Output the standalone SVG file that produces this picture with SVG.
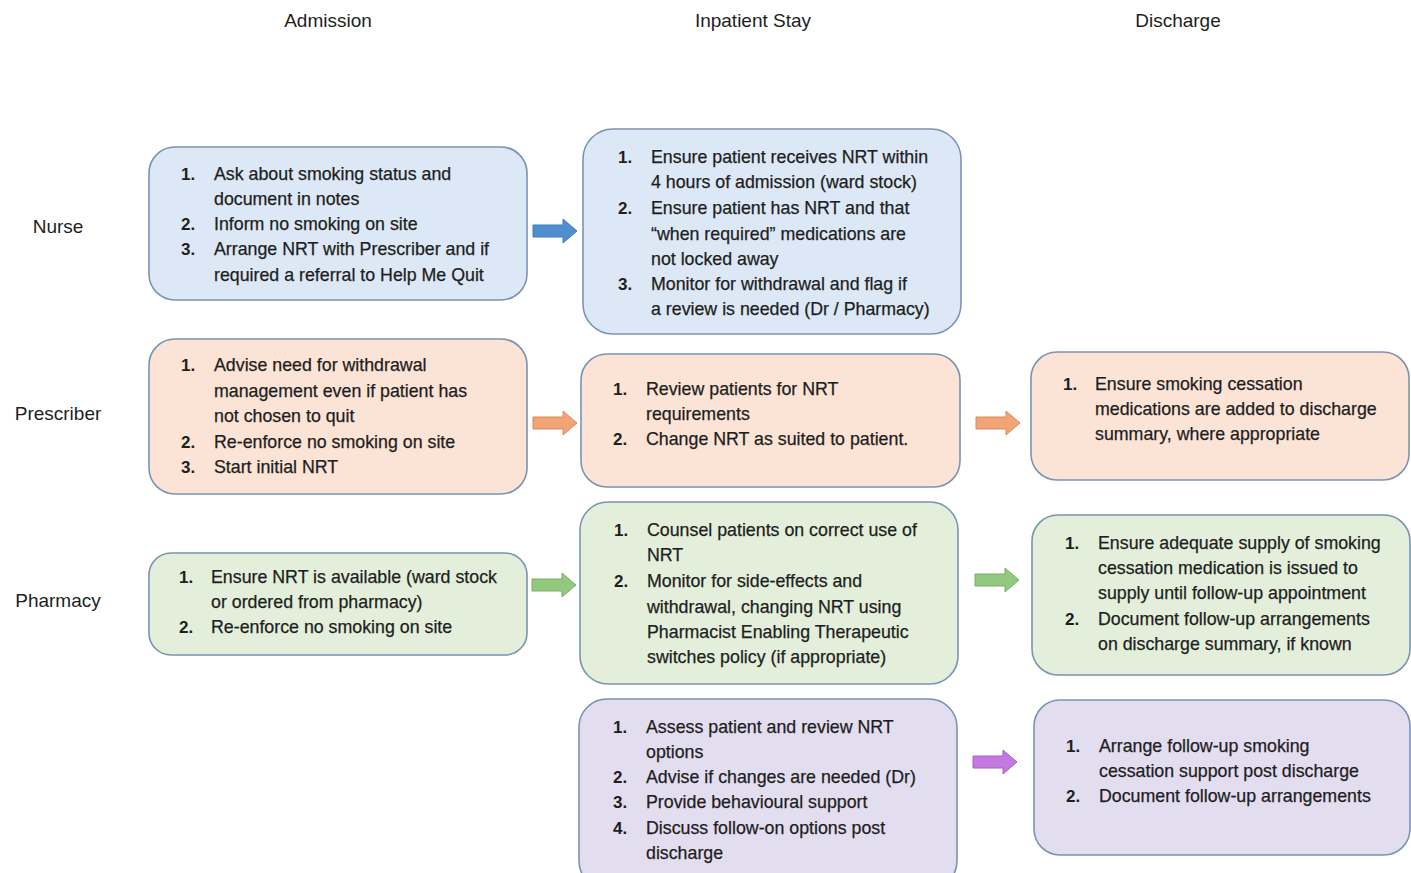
<svg xmlns="http://www.w3.org/2000/svg" width="1411" height="873" viewBox="0 0 1411 873">
<style>
text{font-family:"Liberation Sans",Arial,sans-serif;fill:#1e1e1e}
.h{font-size:19px;text-anchor:middle}
.t{font-size:17.8px;stroke:#1e1e1e;stroke-width:0.25}
.n{font-size:17px;font-weight:bold}
.box{stroke:#7a93b3;stroke-width:1.6}
.blue{fill:#dce8f5}.org{fill:#fbe3d5}.grn{fill:#e3efda}.pur{fill:#e3ddf0}
.ab{fill:#4f8fd0;stroke:#3f7cbd}.ao{fill:#f2a474;stroke:#d88c5c}.ag{fill:#93c97e;stroke:#7aaf66}.ap{fill:#c479e0;stroke:#a860c4}
</style>
<defs>
<path id="arr" d="M0,-6 H30 V-12 L44,0 L30,12 V6 H0 Z"/>
</defs>
<rect width="1411" height="873" fill="#ffffff"/>
<g id="headers">
<text class="h" x="328" y="27">Admission</text>
<text class="h" x="753" y="27">Inpatient Stay</text>
<text class="h" x="1178" y="27">Discharge</text>
<text class="h" x="58" y="233">Nurse</text>
<text class="h" x="58" y="420">Prescriber</text>
<text class="h" x="58" y="607">Pharmacy</text>
</g>
<g id="connectors">
<use href="#arr" class="ab" x="533" y="231"/>
<use href="#arr" class="ao" x="533" y="423"/>
<use href="#arr" class="ag" x="532" y="585"/>
<use href="#arr" class="ao" x="976" y="423"/>
<use href="#arr" class="ag" x="975" y="580"/>
<use href="#arr" class="ap" x="973" y="762"/>
</g>
<g id="nurse-admission">
<rect class="box blue" x="149" y="147" width="378" height="153" rx="26"/>
<text class="n" x="181" y="180">1.</text><text class="t" x="214" y="180">Ask about smoking status and</text>
<text class="t" x="214" y="205">document in notes</text>
<text class="n" x="181" y="230">2.</text><text class="t" x="214" y="230">Inform no smoking on site</text>
<text class="n" x="181" y="255">3.</text><text class="t" x="214" y="255">Arrange NRT with Prescriber and if</text>
<text class="t" x="214" y="281">required a referral to Help Me Quit</text>
</g>
<g id="nurse-inpatient">
<rect class="box blue" x="583" y="129" width="378" height="205" rx="30"/>
<text class="n" x="618" y="163">1.</text><text class="t" x="651" y="163">Ensure patient receives NRT within</text>
<text class="t" x="651" y="188">4 hours of admission (ward stock)</text>
<text class="n" x="618" y="214">2.</text><text class="t" x="651" y="214">Ensure patient has NRT and that</text>
<text class="t" x="651" y="240">“when required” medications are</text>
<text class="t" x="651" y="265">not locked away</text>
<text class="n" x="618" y="290">3.</text><text class="t" x="651" y="290">Monitor for withdrawal and flag if</text>
<text class="t" x="651" y="315">a review is needed (Dr / Pharmacy)</text>
</g>
<g id="prescriber-admission">
<rect class="box org" x="149" y="339" width="378" height="155" rx="26"/>
<text class="n" x="181" y="371">1.</text><text class="t" x="214" y="371">Advise need for withdrawal</text>
<text class="t" x="214" y="397">management even if patient has</text>
<text class="t" x="214" y="422">not chosen to quit</text>
<text class="n" x="181" y="448">2.</text><text class="t" x="214" y="448">Re-enforce no smoking on site</text>
<text class="n" x="181" y="473">3.</text><text class="t" x="214" y="473">Start initial NRT</text>
</g>
<g id="prescriber-inpatient">
<rect class="box org" x="581" y="354" width="379" height="133" rx="26"/>
<text class="n" x="613" y="395">1.</text><text class="t" x="646" y="395">Review patients for NRT</text>
<text class="t" x="646" y="420">requirements</text>
<text class="n" x="613" y="445">2.</text><text class="t" x="646" y="445">Change NRT as suited to patient.</text>
</g>
<g id="prescriber-discharge">
<rect class="box org" x="1031" y="352" width="378" height="128" rx="26"/>
<text class="n" x="1063" y="390">1.</text><text class="t" x="1095" y="390">Ensure smoking cessation</text>
<text class="t" x="1095" y="415">medications are added to discharge</text>
<text class="t" x="1095" y="440">summary, where appropriate</text>
</g>
<g id="pharmacy-admission">
<rect class="box grn" x="149" y="553" width="378" height="102" rx="22"/>
<text class="n" x="179" y="583">1.</text><text class="t" x="211" y="583">Ensure NRT is available  (ward stock</text>
<text class="t" x="211" y="608">or ordered from pharmacy)</text>
<text class="n" x="179" y="633">2.</text><text class="t" x="211" y="633">Re-enforce no smoking on site</text>
</g>
<g id="pharmacy-inpatient">
<rect class="box grn" x="580" y="502" width="378" height="182" rx="28"/>
<text class="n" x="614" y="536">1.</text><text class="t" x="647" y="536">Counsel patients on correct use of</text>
<text class="t" x="647" y="561">NRT</text>
<text class="n" x="614" y="587">2.</text><text class="t" x="647" y="587">Monitor for side-effects and</text>
<text class="t" x="647" y="613">withdrawal, changing NRT using</text>
<text class="t" x="647" y="638">Pharmacist Enabling Therapeutic</text>
<text class="t" x="647" y="663">switches policy (if appropriate)</text>
</g>
<g id="pharmacy-discharge">
<rect class="box grn" x="1032" y="515" width="378" height="160" rx="26"/>
<text class="n" x="1065" y="549">1.</text><text class="t" x="1098" y="549">Ensure adequate supply of smoking</text>
<text class="t" x="1098" y="574">cessation medication is  issued to</text>
<text class="t" x="1098" y="599">supply until  follow-up appointment</text>
<text class="n" x="1065" y="625">2.</text><text class="t" x="1098" y="625">Document follow-up arrangements</text>
<text class="t" x="1098" y="650">on discharge summary, if known</text>
</g>
<g id="help-inpatient">
<rect class="box pur" x="579" y="699" width="378" height="190" rx="28"/>
<text class="n" x="613" y="733">1.</text><text class="t" x="646" y="733">Assess patient and review NRT</text>
<text class="t" x="646" y="758">options</text>
<text class="n" x="613" y="783">2.</text><text class="t" x="646" y="783">Advise if changes are needed (Dr)</text>
<text class="n" x="613" y="808">3.</text><text class="t" x="646" y="808">Provide behavioural support</text>
<text class="n" x="613" y="834">4.</text><text class="t" x="646" y="834">Discuss follow-on options post</text>
<text class="t" x="646" y="859">discharge</text>
</g>
<g id="help-discharge">
<rect class="box pur" x="1034" y="700" width="376" height="155" rx="26"/>
<text class="n" x="1066" y="752">1.</text><text class="t" x="1099" y="752">Arrange follow-up smoking</text>
<text class="t" x="1099" y="777">cessation support post discharge</text>
<text class="n" x="1066" y="802">2.</text><text class="t" x="1099" y="802">Document follow-up arrangements</text>
</g>
</svg>
